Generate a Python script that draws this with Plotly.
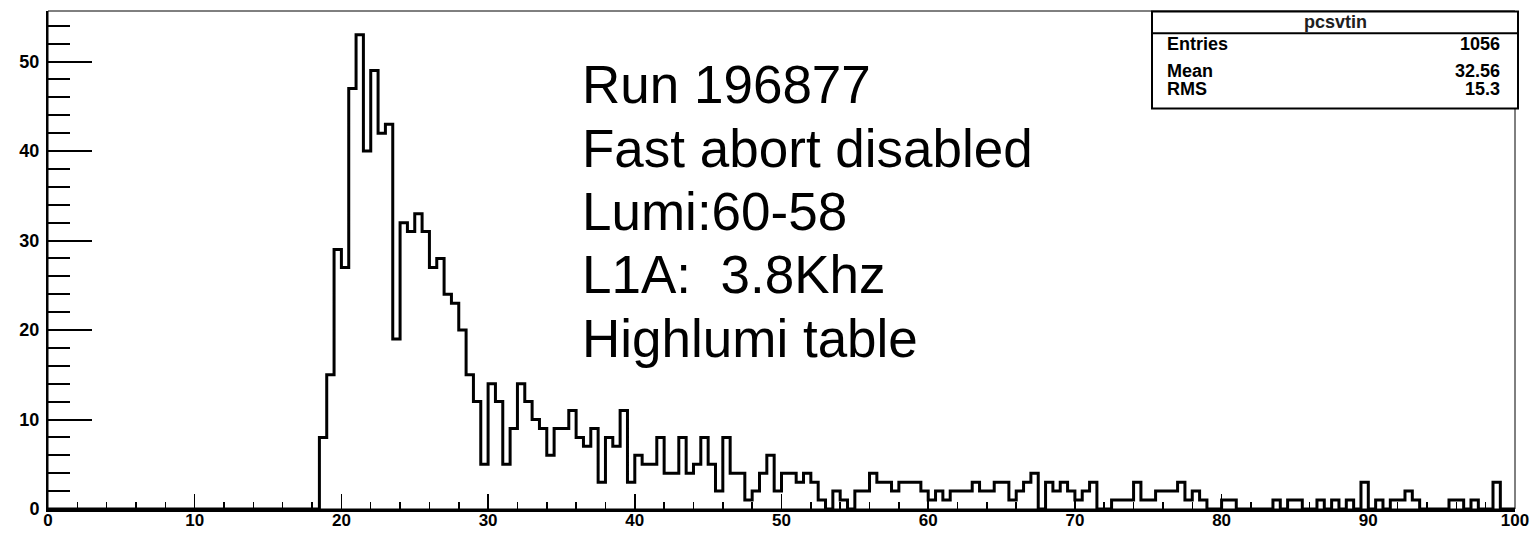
import plotly.graph_objects as go

# ---- data (histogram "pcsvtin", 200 bins of width 0.5 from 0 to 100) ----
bin_low = 0.0
bin_width = 0.5
counts = (
    [0] * 37 +
    [8, 15, 29, 27, 47, 53, 40, 49, 42, 43, 19, 32, 31, 33, 31, 27, 28, 24, 23, 20, 15, 12, 5] +
    [14, 12, 5, 9, 14, 12, 10, 9, 6, 9, 9, 11, 8, 7, 9, 3, 8, 7, 11, 3, 6, 5, 5, 8, 4, 4, 8, 4, 5, 8, 5, 2, 8, 4] +
    [4, 1, 2, 4, 6, 2, 4, 4, 3, 4, 3, 1, 0, 2, 1, 0, 2, 2, 4, 3, 3, 2, 3, 3, 3, 2, 1, 2, 1, 2, 2, 2, 3, 2] +
    [2, 3, 3, 1, 2, 3, 4, 0, 3, 2, 3, 2, 1, 2, 3, 0, 0, 1, 1, 1, 3, 1, 1, 2, 2, 2, 3, 1, 2, 1, 0, 0] +
    [1, 1, 0, 0, 0, 0, 0, 1, 0, 1, 1, 0, 0, 1, 0, 1, 0, 1, 0, 3, 0, 1, 0, 1, 1, 2, 1, 0, 0, 0, 0, 1, 1, 0, 1, 0, 0, 3, 0, 0]
)
stats_title = "pcsvtin"
stats_labels = ["Entries", "Mean", "RMS"]
stats_values = ["1056", "32.56", "15.3"]
info_lines = ["Run 196877", "Fast abort disabled", "Lumi:60-58", "L1A:  3.8Khz", "Highlumi table"]
x_tickvals = [0, 10, 20, 30, 40, 50, 60, 70, 80, 90, 100]
y_tickvals = [0, 10, 20, 30, 40, 50]

edges = [bin_low + i * bin_width for i in range(len(counts) + 1)]
ys = counts + [counts[-1]]

W, H = 1533, 533
L, R, T, B = 48, 18, 11, 24
PW, PH = W - L - R, H - T - B


def px(xp):
    return (xp - L) / PW


def py(yp):
    return (H - B - yp) / PH


FONT = "Liberation Sans, Arial, Helvetica, sans-serif"

fig = go.Figure()
fig.add_trace(go.Scatter(
    x=edges, y=ys, mode="lines",
    line=dict(color="black", width=3, shape="hv"),
    hoverinfo="skip", showlegend=False,
))

fig.update_layout(
    width=W, height=H,
    margin=dict(l=L, r=R, t=T, b=B, pad=0, autoexpand=False),
    paper_bgcolor="white", plot_bgcolor="white",
    showlegend=False,
    font=dict(family=FONT, color="black"),
)

fig.update_xaxes(
    range=[0, 100], tickvals=x_tickvals, ticktext=[str(v) for v in x_tickvals],
    ticks="inside", ticklen=15, tickwidth=1.5, tickcolor="black",
    minor=dict(dtick=2, tick0=0, ticks="inside", ticklen=7, tickwidth=1.5, tickcolor="black", showgrid=False),
    showgrid=False, zeroline=False, automargin=False,
    showline=True, linecolor="black", linewidth=3,
    ticklabelstandoff=-6,
    tickfont=dict(family=FONT, size=17, color="black", weight="bold"),
)
fig.update_yaxes(
    range=[0, 55.65], tickvals=y_tickvals, ticktext=[str(v) for v in y_tickvals],
    ticks="inside", ticklen=44, tickwidth=2, tickcolor="black",
    minor=dict(dtick=2, tick0=0, ticks="inside", ticklen=22, tickwidth=2, tickcolor="black", showgrid=False),
    showgrid=False, zeroline=False, automargin=False,
    showline=True, linecolor="black", linewidth=2,
    ticklabelstandoff=3,
    tickfont=dict(family=FONT, size=18, color="black", weight="bold"),
)

shapes = [
    dict(type="rect", xref="paper", yref="paper", x0=0, x1=1, y0=0, y1=1,
         line=dict(color="black", width=1), fillcolor="rgba(0,0,0,0)", layer="above"),
    dict(type="rect", xref="paper", yref="paper", x0=px(1152), x1=px(1518), y0=py(108.5), y1=py(11.5),
         line=dict(color="black", width=2), fillcolor="white", layer="above"),
    dict(type="line", xref="paper", yref="paper", x0=px(1152), x1=px(1518), y0=py(33.3), y1=py(33.3),
         line=dict(color="black", width=2), layer="above"),
]
fig.update_layout(shapes=shapes)

ann = []
ann.append(dict(xref="paper", yref="paper", x=px(1335), y=py(22), text=stats_title, showarrow=False,
                xanchor="center", yanchor="middle",
                font=dict(family=FONT, size=18, color="#202020", weight="bold")))
row_y = [44, 71, 89]
for lab, val, yy in zip(stats_labels, stats_values, row_y):
    ann.append(dict(xref="paper", yref="paper", x=px(1165), y=py(yy), text=lab, showarrow=False,
                    xanchor="left", yanchor="middle",
                    font=dict(family=FONT, size=18, color="black", weight="bold")))
    ann.append(dict(xref="paper", yref="paper", x=px(1502), y=py(yy), text=val, showarrow=False,
                    xanchor="right", yanchor="middle",
                    font=dict(family=FONT, size=18, color="black", weight="bold")))

line_y = [84.5, 148, 211.5, 275, 338.5]
for txt, yy in zip(info_lines, line_y):
    ann.append(dict(xref="paper", yref="paper", x=px(580), y=py(yy), text=txt, showarrow=False,
                    xanchor="left", yanchor="middle",
                    font=dict(family=FONT, size=53, color="black")))
fig.update_layout(annotations=ann)

fig.write_html(
    "out.html",
    config={"displayModeBar": False, "staticPlot": True},
    post_script="document.documentElement.style.margin='0';document.body.style.margin='0';"
                "document.body.style.padding='0';document.body.style.overflow='hidden';",
)
